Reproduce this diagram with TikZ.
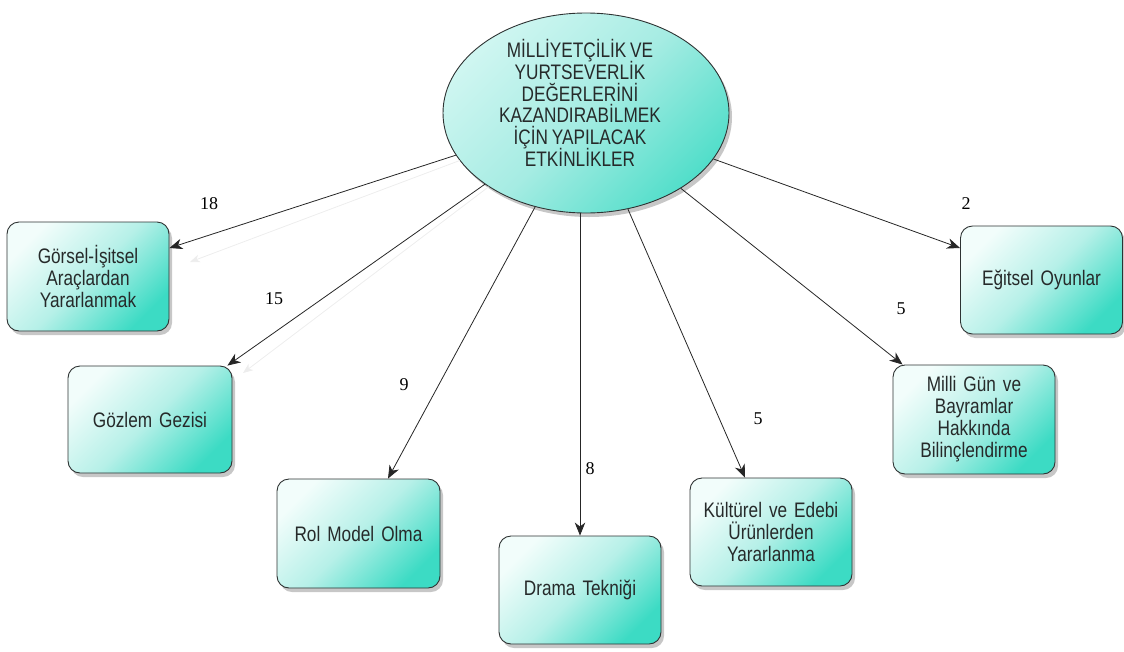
\documentclass[tikz,border=0pt]{standalone}
\usepackage{fontspec}
\setmainfont{Liberation Sans}
\newfontfamily\tallfont[FakeStretch=0.82]{Liberation Sans}
\newfontfamily\numfont{Liberation Serif}
\usetikzlibrary{shapes.geometric,arrows.meta,shadows}
\definecolor{boxA}{HTML}{F2FDFB}
\definecolor{boxB}{HTML}{B6F0E8}
\definecolor{boxC}{HTML}{3CDBC4}
\definecolor{ellA}{HTML}{CFF6F1}
\definecolor{ellB}{HTML}{A6ECE3}
\definecolor{ellC}{HTML}{52DECA}
\definecolor{edge}{HTML}{2E3333}
\definecolor{ink}{HTML}{262A2A}
\newcommand\tallsetup[2]{\tallfont\fontsize{#1}{#2}\selectfont\lineskiplimit=-20pt\fontdimen2\font=3.8pt\spaceskip=3.8pt plus 1pt minus 0.5pt\relax}
\begin{document}
\begin{tikzpicture}[x=1pt,y=-1pt,
  shadowed/.style={drop shadow={shadow xshift=3pt,shadow yshift=-4pt,opacity=0.22,fill=black}},
  box/.style={draw=edge, line width=0.9pt, rounded corners=12pt,
    minimum width=162pt, minimum height=108pt, inner sep=2pt,
    align=center, text width=158pt, text=ink,
    font=\tallsetup{21}{22},
    top color=boxA, bottom color=boxC, middle color=boxB, shading angle=45,
    shadowed},
  hub/.style={ellipse, draw=edge, line width=0.9pt, inner sep=0pt,
    minimum width=286pt, minimum height=200pt, text=ink,
    font=\tallsetup{21}{21.8},
    top color=ellA, bottom color=ellC, middle color=ellB, shading angle=45,
    shadowed},
  arr/.style={draw=black!85, line width=0.8pt,
    -{Stealth[length=13pt,width=10.5pt,inset=4pt]}},
  ghost/.style={draw=black!7, line width=0.8pt,
    -{Stealth[length=10pt,width=8pt,inset=3pt]}},
  num/.style={font=\numfont\fontsize{18}{18}\selectfont, inner sep=1pt}
]
\useasboundingbox (0,0) rectangle (1124,651);

\node[hub] (c) at (586,113) {\makebox[0pt]{\kern-12pt\raisebox{5pt}[0pt][0pt]{\parbox{200pt}{\centering\lineskiplimit=-20pt MİLLİYETÇİLİK VE\\YURTSEVERLİK\\DEĞERLERİNİ\\KAZANDIRABİLMEK\\İÇİN YAPILACAK\\ETKİNLİKLER}}}};

\node[box, minimum width=160pt, minimum height=109pt] (g) at (88,276.5) {Görsel-İşitsel\\Araçlardan\\Yararlanmak};
\node[box, minimum width=164pt, minimum height=107pt] (gz) at (150,419.5) {Gözlem Gezisi};
\node[box, minimum width=163pt, minimum height=109pt] (r) at (358.5,533.5) {Rol Model Olma};
\node[box] (d) at (580,590) {Drama Tekniği};
\node[box] (k) at (771,532) {Kültürel ve Edebi\\Ürünlerden\\Yararlanma};
\node[box, minimum height=109pt] (m) at (974,419.5) {Milli Gün ve\\Bayramlar\\Hakkında\\Bilinçlendirme};
\node[box, minimum width=161pt] (e) at (1041.5,280) {Eğitsel Oyunlar};

\coordinate (t18) at ([yshift=28.5pt]g.east);
\coordinate (t15) at ([xshift=-5pt]gz.north east);
\coordinate (t9) at ([xshift=29.5pt]r.north);
\coordinate (t5k) at ([xshift=-26pt]k.north);
\coordinate (t5m) at ([xshift=10pt]m.north west);
\coordinate (t2) at ([yshift=32pt]e.west);
\coordinate (gh18) at (190,262);
\coordinate (gh15) at (243,373);

\draw[ghost] (c) -- (gh18);
\draw[ghost] (c) -- (gh15);

\draw[arr] (c) -- (t18);
\draw[arr] (c) -- (t15);
\draw[arr] (c) -- (t9);
\draw[arr] ([xshift=-6pt]c.south) -- (d.north);
\draw[arr] (c) -- (t5k);
\draw[arr] (c) -- (t5m);
\draw[arr] (c) -- (t2);

\node[num] (l18) at (209,204) {18};
\node[num] (l15) at (274,299) {15};
\node[num] (l9) at (404,385) {9};
\node[num] (l8) at (590,469) {8};
\node[num] (l5k) at (758,419) {5};
\node[num] (l5m) at (901,309) {5};
\node[num] (l2) at (966,204) {2};
\end{tikzpicture}
\end{document}
